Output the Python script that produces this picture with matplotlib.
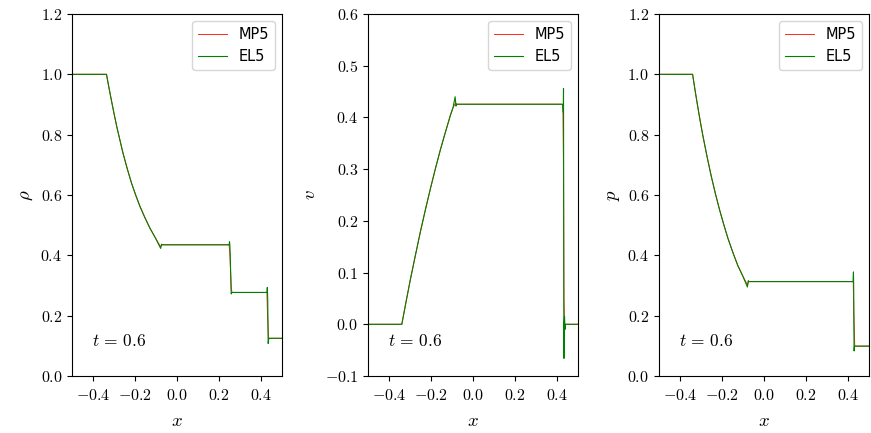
import matplotlib.pyplot as plt
from matplotlib.ticker import FuncFormatter, MultipleLocator

plt.rcParams['mathtext.fontset'] = 'cm'

# density
rho_x_el5 = [-0.5, -0.336, -0.324, -0.312, -0.300, -0.288, -0.272, -0.257, -0.237, -0.217, -0.197,
             -0.177, -0.153, -0.129, -0.104, -0.078, -0.074, -0.070,
             0.248, 0.250, 0.252, 0.256, 0.258, 0.261, 0.428, 0.430, 0.432, 0.434, 0.437, 0.5]
rho_el5 = [1.0, 1.0, 0.955, 0.912, 0.870, 0.830, 0.782, 0.738, 0.687, 0.640, 0.600,
           0.563, 0.525, 0.490, 0.459, 0.423, 0.437, 0.435,
           0.435, 0.445, 0.43, 0.33, 0.272, 0.277, 0.277, 0.294, 0.25, 0.108, 0.125, 0.125]
rho_x_mp5 = [-0.5, -0.336, -0.324, -0.312, -0.300, -0.288, -0.272, -0.257, -0.237, -0.217, -0.197,
             -0.177, -0.153, -0.129, -0.104, -0.078, -0.072,
             0.248, 0.252, 0.258, 0.262, 0.428, 0.431, 0.436, 0.5]
rho_mp5 = [1.0, 1.0, 0.955, 0.912, 0.870, 0.830, 0.782, 0.738, 0.687, 0.640, 0.600,
           0.563, 0.525, 0.490, 0.459, 0.428, 0.435,
           0.435, 0.40, 0.29, 0.277, 0.277, 0.20, 0.125, 0.125]

# velocity
v_x_el5 = [-0.5, -0.339, -0.319, -0.299, -0.275, -0.251, -0.227, -0.203, -0.179, -0.155, -0.131,
           -0.107, -0.095, -0.085, -0.081, -0.078,
           0.420, 0.428, 0.430, 0.431, 0.432, 0.433, 0.434, 0.436, 0.438, 0.440, 0.5]
v_el5 = [0.0, 0.0, 0.043, 0.085, 0.132, 0.178, 0.221, 0.262, 0.301, 0.338, 0.372,
         0.405, 0.419, 0.440, 0.422, 0.4255,
         0.4255, 0.425, 0.41, 0.456, 0.20, -0.066, 0.0, 0.015, -0.01, 0.0, 0.0]
v_x_mp5 = [-0.5, -0.339, -0.319, -0.299, -0.275, -0.251, -0.227, -0.203, -0.179, -0.155, -0.131,
           -0.107, -0.095, -0.083, -0.078,
           0.428, 0.431, 0.433, 0.436, 0.5]
v_mp5 = [0.0, 0.0, 0.043, 0.085, 0.132, 0.178, 0.221, 0.262, 0.301, 0.338, 0.372,
         0.405, 0.419, 0.428, 0.4255,
         0.4255, 0.30, 0.05, 0.0, 0.0]

# pressure
p_x_el5 = [-0.5, -0.340, -0.328, -0.316, -0.304, -0.292, -0.272, -0.252, -0.232, -0.212, -0.192,
           -0.172, -0.148, -0.124, -0.102, -0.079, -0.075, -0.071,
           0.424, 0.426, 0.427, 0.429, 0.431, 0.434, 0.5]
p_el5 = [1.0, 1.0, 0.946, 0.895, 0.846, 0.800, 0.730, 0.665, 0.606, 0.552, 0.503,
         0.457, 0.409, 0.365, 0.333, 0.295, 0.316, 0.313,
         0.313, 0.345, 0.30, 0.083, 0.100, 0.099, 0.099]
p_x_mp5 = [-0.5, -0.340, -0.328, -0.316, -0.304, -0.292, -0.272, -0.252, -0.232, -0.212, -0.192,
           -0.172, -0.148, -0.124, -0.102, -0.079, -0.073,
           0.425, 0.428, 0.432, 0.5]
p_mp5 = [1.0, 1.0, 0.946, 0.895, 0.846, 0.800, 0.730, 0.665, 0.606, 0.552, 0.503,
         0.457, 0.409, 0.365, 0.333, 0.302, 0.313,
         0.313, 0.20, 0.099, 0.099]

panels = [
    (rho_x_mp5, rho_mp5, rho_x_el5, rho_el5, r'$\rho$', (0.0, 1.2), 0.2),
    (v_x_mp5, v_mp5, v_x_el5, v_el5, r'$v$', (-0.1, 0.6), 0.1),
    (p_x_mp5, p_mp5, p_x_el5, p_el5, r'$p$', (0.0, 1.2), 0.2),
]
lefts = [0.0827, 0.4225, 0.7566]

fig = plt.figure(figsize=(8.71, 4.33), dpi=100)
fmt = FuncFormatter(lambda val, pos: r'$%.1f$' % val)

for left, (xm, ym, xe, ye, lab, ylim, step) in zip(lefts, panels):
    ax = fig.add_axes([left, 0.1316, 0.2411, 0.8361])
    ax.plot(xm, ym, color='#ff2a1a', lw=0.7, label='MP5')
    ax.plot(xe, ye, color='green', lw=0.8, label='EL5')
    ax.set_xlim(-0.5, 0.5)
    ax.set_ylim(*ylim)
    ax.xaxis.set_major_locator(MultipleLocator(0.2))
    ax.yaxis.set_major_locator(MultipleLocator(step))
    ax.xaxis.set_major_formatter(fmt)
    ax.yaxis.set_major_formatter(fmt)
    ax.tick_params(labelsize=11.5)
    ax.tick_params(axis='x', pad=5)
    ax.set_xlabel(r'$x$', fontsize=13.5, labelpad=6)
    ax.set_ylabel(lab, fontsize=13.5)
    ax.text(0.095, 0.097, r'$t\,=\,0.6$', transform=ax.transAxes, fontsize=12.5, va='center')
    ax.legend(loc='upper right', fontsize=10.5)

fig.savefig('out.png', dpi=100)
